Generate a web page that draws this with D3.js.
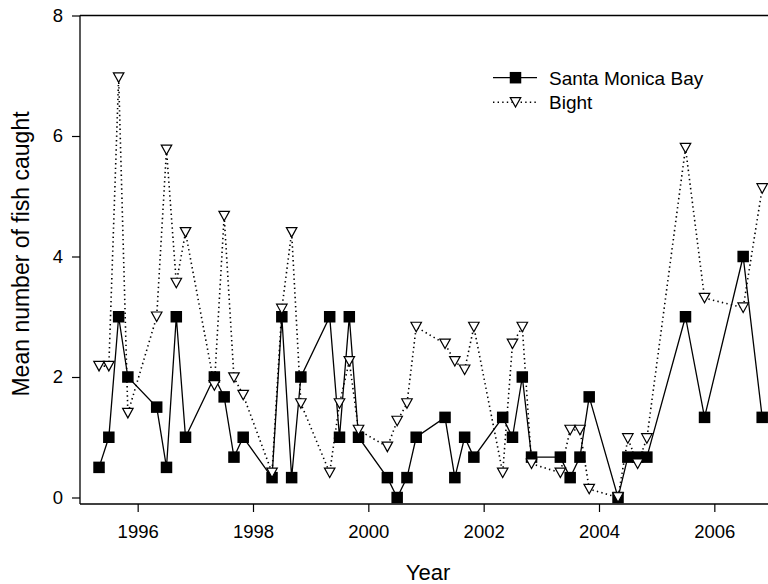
<!DOCTYPE html>
<html>
<head>
<meta charset="utf-8">
<script src="https://cdn.jsdelivr.net/npm/d3@7"></script>
<style>
  html, body { margin: 0; padding: 0; background: #fff; }
  svg { display: block; font-family: "Liberation Sans", Arial, sans-serif; }
</style>
</head>
<body>
<svg id="chart" width="768" height="584"></svg>
<script>
// ---- data ----
const years = [
  1995.33, 1995.5, 1995.67, 1995.83,
  1996.33, 1996.5, 1996.67, 1996.83,
  1997.33, 1997.5, 1997.67, 1997.83,
  1998.33, 1998.5, 1998.67, 1998.83,
  1999.33, 1999.5, 1999.67, 1999.83,
  2000.33, 2000.5, 2000.67, 2000.83,
  2001.33, 2001.5, 2001.67, 2001.83,
  2002.33, 2002.5, 2002.67, 2002.83,
  2003.33, 2003.5, 2003.67, 2003.83,
  2004.33, 2004.5, 2004.67, 2004.83,
  2005.5, 2005.83, 2006.5, 2006.83
];
const santaMonicaBay = [
  0.5, 1.0, 3.0, 2.0,
  1.5, 0.5, 3.0, 1.0,
  2.0, 1.67, 0.67, 1.0,
  0.33, 3.0, 0.33, 2.0,
  3.0, 1.0, 3.0, 1.0,
  0.33, 0.0, 0.33, 1.0,
  1.33, 0.33, 1.0, 0.67,
  1.33, 1.0, 2.0, 0.67,
  0.67, 0.33, 0.67, 1.67,
  0.0, 0.67, 0.67, 0.67,
  3.0, 1.33, 4.0, 1.33
];
const bight = [
  2.18, 2.18, 6.97, 1.4,
  3.0, 5.77, 3.56, 4.4,
  1.86, 4.67, 1.99, 1.7,
  0.41, 3.13, 4.4, 1.56,
  0.41, 1.56, 2.26, 1.12,
  0.84, 1.27, 1.56, 2.83,
  2.55, 2.26, 2.12, 2.83,
  0.41, 2.55, 2.83, 0.56,
  0.41, 1.12, 1.12, 0.14,
  0.0, 0.98, 0.56, 0.98,
  5.8, 3.31, 3.15, 5.13
];
const xTicks = [1996, 1998, 2000, 2002, 2004, 2006];
const yTicks = [0, 2, 4, 6, 8];
const seriesNames = ["Santa Monica Bay", "Bight"];
const xLabel = "Year";
const yLabel = "Mean number of fish caught";

// ---- layout ----
const svg = d3.select("#chart");
const x = d3.scaleLinear().domain([1995, 2007]).range([80, 772]);
const y = d3.scaleLinear().domain([0, 8]).range([497.5, 15.5]);
const axisY = 504;   // offset bottom axis line
const tickFont = "18.5px";

const smb = years.map((d, i) => ({x: d, y: santaMonicaBay[i]}));
const bgt = years.map((d, i) => ({x: d, y: bight[i]}));

// spines
svg.append("line").attr("x1", x.range()[0]).attr("x2", x.range()[0])
  .attr("y1", y(8)).attr("y2", axisY).attr("stroke", "#000").attr("stroke-width", 1.3);
svg.append("line").attr("x1", x.range()[0]).attr("x2", 780)
  .attr("y1", axisY).attr("y2", axisY).attr("stroke", "#000").attr("stroke-width", 1.3);
svg.append("line").attr("x1", x.range()[0]).attr("x2", 780)
  .attr("y1", y(8)).attr("y2", y(8)).attr("stroke", "#000").attr("stroke-width", 1.3);

// axes
const gx = svg.append("g").attr("transform", `translate(0,${axisY})`)
  .call(d3.axisBottom(x).tickValues(xTicks).tickFormat(d3.format("d")).tickSize(8).tickPadding(13));
const gy = svg.append("g").attr("transform", `translate(${x.range()[0]},0)`)
  .call(d3.axisLeft(y).tickValues(yTicks).tickFormat(d3.format("d")).tickSize(8).tickPadding(9));
[gx, gy].forEach(g => {
  g.select(".domain").remove();
  g.selectAll(".tick line").attr("stroke", "#000").attr("stroke-width", 1.2);
  g.selectAll(".tick text").attr("fill", "#000").style("font-size", tickFont)
    .style("font-family", '"Liberation Sans", Arial, sans-serif');
});

// axis titles
svg.append("text").attr("x", 428).attr("y", 580).attr("text-anchor", "middle")
  .style("font-size", "22px").text(xLabel);
svg.append("text").attr("transform", "translate(29,254) rotate(-90)")
  .attr("text-anchor", "middle").style("font-size", "23px").text(yLabel);

// lines
const line = d3.line().x(d => x(d.x)).y(d => y(d.y));
const plot = svg.append("g");
plot.append("path").datum(smb).attr("d", line).attr("fill", "none")
  .attr("stroke", "#000").attr("stroke-width", 1.3);
plot.append("path").datum(bgt).attr("d", line).attr("fill", "none")
  .attr("stroke", "#000").attr("stroke-width", 1.6).attr("stroke-dasharray", "1.4,3.2");

const sq = 11.5;
const triPath = (cx, cy) => {
  const w = 10.5, h = 9.5;
  return `M${cx - w / 2},${cy - h / 2}L${cx + w / 2},${cy - h / 2}L${cx},${cy + h / 2}Z`;
};

plot.selectAll("rect.smb").data(smb).enter().append("rect").attr("class", "smb")
  .attr("x", d => x(d.x) - sq / 2).attr("y", d => y(d.y) - sq / 2)
  .attr("width", sq).attr("height", sq).attr("fill", "#000");
plot.selectAll("path.bgt").data(bgt).enter().append("path").attr("class", "bgt")
  .attr("d", d => triPath(x(d.x), y(d.y)))
  .attr("fill", "#fff").attr("stroke", "#000").attr("stroke-width", 1.2);

// legend
const lg = svg.append("g");
const lx1 = 493, lx2 = 537, lmx = 515.5, ly1 = 77.7, ly2 = 102.3, ltx = 549;
lg.append("line").attr("x1", lx1).attr("x2", lx2).attr("y1", ly1).attr("y2", ly1)
  .attr("stroke", "#000").attr("stroke-width", 1.3);
lg.append("rect").attr("x", lmx - sq / 2).attr("y", ly1 - sq / 2)
  .attr("width", sq).attr("height", sq).attr("fill", "#000");
lg.append("line").attr("x1", lx1).attr("x2", lx2).attr("y1", ly2).attr("y2", ly2)
  .attr("stroke", "#000").attr("stroke-width", 1.6).attr("stroke-dasharray", "1.4,3.2");
lg.append("path").attr("d", triPath(lmx, ly2))
  .attr("fill", "#fff").attr("stroke", "#000").attr("stroke-width", 1.2);
lg.append("text").attr("x", ltx).attr("y", ly1 + 7).style("font-size", "19px").text(seriesNames[0]);
lg.append("text").attr("x", ltx).attr("y", ly2 + 7).style("font-size", "19px").text(seriesNames[1]);
</script>
</body>
</html>
